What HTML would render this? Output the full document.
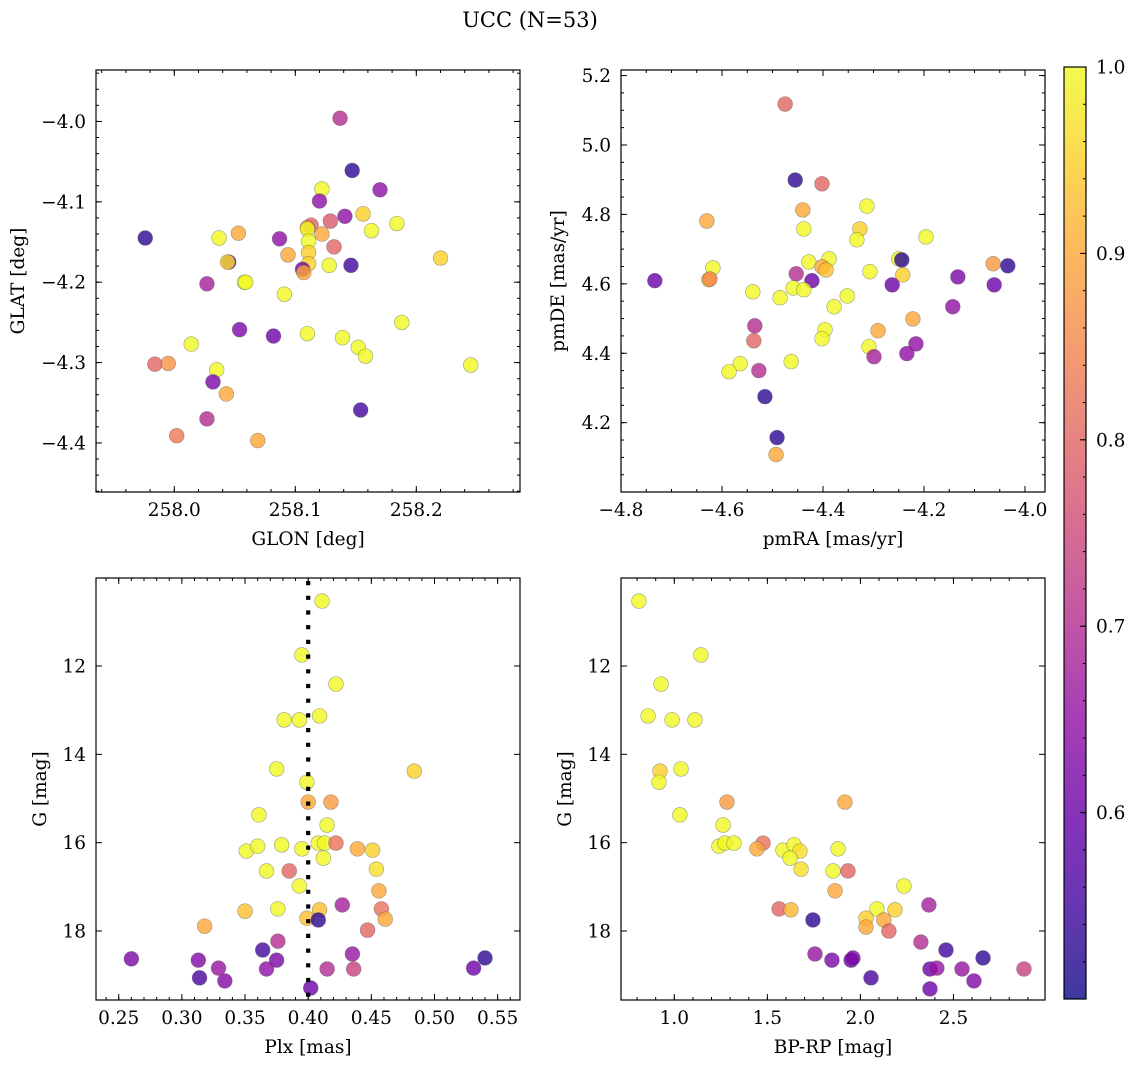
<!DOCTYPE html>
<html>
<head>
<meta charset="utf-8">
<style>
  html,body{margin:0;padding:0;background:#fff;}
  svg{display:block;}
  text{font-family:"DejaVu Serif","Liberation Serif",serif;fill:#000;}
</style>
</head>
<body>
<svg id="fig" width="1136" height="1067" viewBox="0 0 1136 1067" xmlns="http://www.w3.org/2000/svg">
  <rect width="1136" height="1067" fill="#fff"/>
  <text x="530" y="27" font-size="21" text-anchor="middle">UCC (N=53)</text>
  <defs>
    <linearGradient id="plasmaGrad" x1="0" y1="1" x2="0" y2="0"></linearGradient>
    <clipPath id="clip1"><rect x="96" y="70" width="424" height="422"/></clipPath>
    <clipPath id="clip2"><rect x="621" y="70" width="424" height="422"/></clipPath>
    <clipPath id="clip3"><rect x="96" y="578" width="424" height="422"/></clipPath>
    <clipPath id="clip4"><rect x="621" y="578" width="424" height="422"/></clipPath>
  </defs>
  <g id="layer"></g>
</svg>
<script>
// ---- Panel 1: GLON vs GLAT ----
const glon = [258.137,258.147,258.170,258.122,258.120,258.156,258.141,258.184,258.113,258.129,258.110,258.110,258.122,258.163,257.976,258.037,258.053,258.087,258.132,258.111,258.111,258.094,258.045,258.044,258.111,258.128,258.146,258.106,258.107,258.027,258.058,258.059,258.091,258.220,258.054,258.082,258.110,258.139,258.152,258.158,258.188,258.014,257.984,257.995,258.035,258.032,258.043,258.154,258.027,258.002,258.069,258.245];
const glat = [-3.996,-4.061,-4.085,-4.084,-4.099,-4.115,-4.118,-4.127,-4.129,-4.124,-4.132,-4.134,-4.140,-4.136,-4.145,-4.145,-4.139,-4.146,-4.156,-4.149,-4.163,-4.166,-4.175,-4.175,-4.177,-4.179,-4.179,-4.184,-4.188,-4.202,-4.200,-4.200,-4.215,-4.170,-4.259,-4.267,-4.264,-4.269,-4.281,-4.292,-4.250,-4.277,-4.302,-4.301,-4.309,-4.324,-4.339,-4.359,-4.370,-4.391,-4.397,-4.303];
const prob1 = [0.70,0.53,0.65,1.0,0.65,0.95,0.65,1.0,0.80,0.78,0.85,1.0,0.9,1.0,0.53,1.0,0.9,0.65,0.8,1.0,0.95,0.9,0.6,0.97,0.95,1.0,0.55,0.6,0.9,0.68,1.0,1.0,1.0,0.95,0.62,0.6,1.0,1.0,1.0,1.0,1.0,1.0,0.8,0.87,1.0,0.62,0.9,0.55,0.7,0.83,0.9,1.0];
const xTicks1 = [258.0,258.1,258.2];
const xTickLabels1 = ["258.0","258.1","258.2"];
const yTicks1 = [-4.0,-4.1,-4.2,-4.3,-4.4];
const yTickLabels1 = ["\u22124.0","\u22124.1","\u22124.2","\u22124.3","\u22124.4"];

// ---- Panel 2: pmRA vs pmDE ----
const pmra = [-4.475,-4.455,-4.402,-4.440,-4.313,-4.630,-4.438,-4.327,-4.333,-4.196,-4.618,-4.626,-4.624,-4.733,-4.453,-4.422,-4.428,-4.388,-4.402,-4.394,-4.459,-4.438,-4.539,-4.485,-4.352,-4.378,-4.307,-4.250,-4.244,-4.242,-4.263,-4.133,-4.063,-4.034,-4.061,-4.143,-4.222,-4.291,-4.396,-4.402,-4.535,-4.537,-4.216,-4.234,-4.309,-4.299,-4.463,-4.564,-4.586,-4.527,-4.515,-4.491,-4.493];
const pmde = [5.118,4.899,4.888,4.813,4.824,4.781,4.758,4.758,4.727,4.735,4.646,4.612,4.614,4.609,4.629,4.609,4.663,4.672,4.649,4.640,4.588,4.583,4.577,4.560,4.565,4.534,4.635,4.672,4.669,4.626,4.597,4.620,4.658,4.652,4.597,4.534,4.499,4.465,4.468,4.442,4.479,4.436,4.427,4.399,4.419,4.390,4.376,4.370,4.347,4.350,4.275,4.157,4.108];
const prob2 = [0.8,0.53,0.8,0.9,1.0,0.9,1.0,0.95,1.0,1.0,1.0,0.95,0.85,0.6,0.7,0.6,1.0,1.0,0.9,0.93,1.0,1.0,1.0,1.0,1.0,1.0,1.0,1.0,0.53,0.95,0.6,0.62,0.88,0.53,0.6,0.65,0.9,0.9,1.0,1.0,0.7,0.8,0.65,0.65,1.0,0.68,1.0,1.0,1.0,0.7,0.53,0.53,0.9];
const xTicks2 = [-4.8,-4.6,-4.4,-4.2,-4.0];
const xTickLabels2 = ["\u22124.8","\u22124.6","\u22124.4","\u22124.2","\u22124.0"];
const yTicks2 = [4.2,4.4,4.6,4.8,5.0,5.2];
const yTickLabels2 = ["4.2","4.4","4.6","4.8","5.0","5.2"];

// ---- Panel 3: Plx vs G ----
const plx = [0.411,0.395,0.422,0.381,0.393,0.409,0.375,0.484,0.399,0.400,0.418,0.361,0.415,0.351,0.360,0.379,0.395,0.408,0.413,0.422,0.439,0.451,0.412,0.367,0.385,0.454,0.393,0.456,0.350,0.376,0.409,0.427,0.458,0.461,0.399,0.408,0.318,0.447,0.376,0.364,0.260,0.313,0.375,0.435,0.329,0.367,0.415,0.436,0.540,0.531,0.314,0.334,0.402];
const gmag3 = [10.53,11.75,12.41,13.22,13.22,13.13,14.33,14.38,14.63,15.08,15.08,15.37,15.60,16.19,16.08,16.05,16.14,16.01,16.01,16.01,16.14,16.17,16.35,16.64,16.64,16.60,16.98,17.09,17.55,17.50,17.52,17.41,17.50,17.73,17.71,17.75,17.89,17.98,18.23,18.43,18.63,18.66,18.66,18.52,18.84,18.86,18.86,18.86,18.61,18.84,19.06,19.13,19.29];
const prob3 = [1,1,1,1,1,1,1,0.95,1,0.9,0.88,1,1,1,1,1,1,1,1,0.82,0.9,0.95,1,1,0.8,0.97,1,0.9,0.93,1,0.93,0.68,0.82,0.9,0.93,0.53,0.9,0.8,0.7,0.55,0.62,0.63,0.62,0.66,0.66,0.65,0.7,0.74,0.53,0.6,0.56,0.63,0.6];
const plxRef = [0.40];
const xTicks3 = [0.25,0.30,0.35,0.40,0.45,0.50,0.55];
const xTickLabels3 = ["0.25","0.30","0.35","0.40","0.45","0.50","0.55"];
const yTicksG = [12,14,16,18];
const yTickLabelsG = ["12","14","16","18"];

// ---- Panel 4: BP-RP vs G ----
const bprp = [0.810,1.143,0.929,0.859,0.988,1.111,0.923,1.036,0.918,1.283,1.917,1.030,1.262,1.240,1.272,1.321,1.477,1.444,1.584,1.643,1.675,1.622,1.681,1.880,1.853,1.933,1.864,2.234,1.563,1.627,1.745,2.089,2.186,2.030,2.030,2.126,2.153,2.368,2.325,2.460,1.756,1.847,1.950,1.960,2.659,2.374,2.411,2.546,2.879,2.057,2.610,2.374];
const gmag4 = [10.53,11.75,12.41,13.13,13.22,13.22,14.38,14.33,14.63,15.08,15.08,15.37,15.60,16.08,16.01,16.01,16.01,16.14,16.17,16.05,16.19,16.35,16.60,16.14,16.64,16.64,17.09,16.98,17.50,17.52,17.75,17.50,17.52,17.71,17.91,17.75,18.00,17.41,18.25,18.43,18.52,18.66,18.66,18.61,18.61,18.86,18.84,18.86,18.86,19.06,19.13,19.31];
const prob4 = [1,1,1,1,1,1,0.95,1,1,0.88,0.9,1,1,1,1,1,0.82,0.9,1,1,0.97,1,0.97,1,1,0.8,0.9,1,0.8,0.92,0.53,1,0.95,0.95,0.9,0.9,0.8,0.68,0.7,0.55,0.66,0.62,0.6,0.62,0.53,0.6,0.66,0.66,0.74,0.56,0.63,0.6];
const xTicks4 = [1.0,1.5,2.0,2.5];
const xTickLabels4 = ["1.0","1.5","2.0","2.5"];

// ---- Colorbar ----
const cbTicks = [0.6,0.7,0.8,0.9,1.0];
const cbTickLabels = ["0.6","0.7","0.8","0.9","1.0"];

const NS = "http://www.w3.org/2000/svg";
const layer = document.getElementById("layer");
const VMIN = 0.50, VMAX = 1.0;
const plasmaStops = ["#0d0887","#41049d","#6a00a8","#8f0da4","#b12a90","#cc4778","#e16462","#f2844b","#fca636","#fcce25","#f0f921"];
function hex2rgb(h){return [parseInt(h.slice(1,3),16),parseInt(h.slice(3,5),16),parseInt(h.slice(5,7),16)];}
function plasma(t){
  t = Math.max(0, Math.min(1, t));
  const p = t*(plasmaStops.length-1), i = Math.min(Math.floor(p), plasmaStops.length-2), f = p-i;
  const a = hex2rgb(plasmaStops[i]), b = hex2rgb(plasmaStops[i+1]);
  return "rgb("+a.map((v,k)=>Math.round(v+(b[k]-v)*f)).join(",")+")";
}
function mk(tag, attrs, parent){
  const e = document.createElementNS(NS, tag);
  for (const k in attrs) e.setAttribute(k, attrs[k]);
  (parent||layer).appendChild(e);
  return e;
}
function linScale(d0,d1,r0,r1){return v => r0 + (v-d0)/(d1-d0)*(r1-r0);}

function drawPanel(p){
  const g = mk("g", {});
  
  
  const sx = linScale(p.xd[0],p.xd[1],p.x0,p.x1);
  const sy = linScale(p.yd[0],p.yd[1],p.y1,p.y0);
  const pg = mk("g", {"clip-path":"url(#"+p.clip+")"}, g);
  
  
  for (let i=0;i<p.xs.length;i++){
    const c = mk("circle", {cx:sx(p.xs[i]).toFixed(2), cy:sy(p.ys[i]).toFixed(2), r:7.4,
      fill:plasma((p.cs[i]-VMIN)/(VMAX-VMIN)), "fill-opacity":0.8, stroke:"#555", "stroke-opacity":0.55, "stroke-width":0.6}, pg);
    
    
  }
  if (p.vline){
    for (const v of p.vline){
      const l = mk("line", {x1:sx(v), x2:sx(v), y1:p.y0+3, y2:p.y1, stroke:"#000", "stroke-width":4.2, "stroke-dasharray":"4.2 10.5"}, g);
      
      
    }
  }
  const fr = mk("rect", {x:p.x0, y:p.y0, width:p.x1-p.x0, height:p.y1-p.y0, fill:"none", stroke:"#000", "stroke-width":1.2}, g);
  
  
  const tk = mk("g", {stroke:"#000", "stroke-width":1}, g);
  
  
  const eps = 1e-9;
  let start = Math.ceil(p.xd[0]/p.xminor - eps)*p.xminor;
  for (let v=start; v<=p.xd[1]+eps; v+=p.xminor){
    const x = sx(v);
    mk("line",{x1:x,x2:x,y1:p.y1,y2:p.y1-3},tk); mk("line",{x1:x,x2:x,y1:p.y0,y2:p.y0+3},tk);
  }
  start = Math.ceil(p.yd[0]/p.yminor - eps)*p.yminor;
  for (let v=start; v<=p.yd[1]+eps; v+=p.yminor){
    const y = sy(v);
    mk("line",{x1:p.x0,x2:p.x0+3,y1:y,y2:y},tk); mk("line",{x1:p.x1,x2:p.x1-3,y1:y,y2:y},tk);
  }
  p.xt.forEach((v,i)=>{
    const x = sx(v);
    mk("line",{x1:x,x2:x,y1:p.y1,y2:p.y1-6},tk); mk("line",{x1:x,x2:x,y1:p.y0,y2:p.y0+6},tk);
    const t = mk("text",{x:x, y:p.y1+24, "font-size":18.5, "text-anchor":"middle"}, g);
    t.textContent = p.xtl[i];
    
    
  });
  p.yt.forEach((v,i)=>{
    const y = sy(v);
    mk("line",{x1:p.x0,x2:p.x0+6,y1:y,y2:y},tk); mk("line",{x1:p.x1,x2:p.x1-6,y1:y,y2:y},tk);
    const t = mk("text",{x:p.x0-10, y:y+6.5, "font-size":18.5, "text-anchor":"end"}, g);
    t.textContent = p.ytl[i];
    
    
  });
  const xl = mk("text",{x:(p.x0+p.x1)/2, y:p.y1+53, "font-size":18.5, "text-anchor":"middle"}, g);
  xl.textContent = p.xlabel;
  
  
  const yc = (p.y0+p.y1)/2;
  const yl = mk("text",{x:p.ylx, y:yc, "font-size":18.5, "text-anchor":"middle", transform:"rotate(-90 "+p.ylx+" "+yc+")"}, g);
  yl.textContent = p.ylabel;
  
  
}

drawPanel({name:"glon-glat-panel", clip:"clip1", x0:96,x1:520,y0:70,y1:492,
  xd:[257.9353,258.2857], yd:[-4.461,-3.936], xs:glon, ys:glat, cs:prob1,
  xt:xTicks1, xtl:xTickLabels1, yt:yTicks1, ytl:yTickLabels1, xminor:0.02, yminor:0.02,
  xlabel:"GLON [deg]", ylabel:"GLAT [deg]", ylx:24});
drawPanel({name:"pm-panel", clip:"clip2", x0:621,x1:1045,y0:70,y1:492,
  xd:[-4.8,-3.9604], yd:[4.0003,5.216], xs:pmra, ys:pmde, cs:prob2,
  xt:xTicks2, xtl:xTickLabels2, yt:yTicks2, ytl:yTickLabels2, xminor:0.05, yminor:0.05,
  xlabel:"pmRA [mas/yr]", ylabel:"pmDE [mas/yr]", ylx:564});
drawPanel({name:"plx-g-panel", clip:"clip3", x0:96,x1:520,y0:578,y1:1000,
  xd:[0.2320,0.5677], yd:[19.562,10.008], xs:plx, ys:gmag3, cs:prob3, vline:plxRef,
  xt:xTicks3, xtl:xTickLabels3, yt:yTicksG, ytl:yTickLabelsG, xminor:0.01, yminor:0.5,
  xlabel:"Plx [mas]", ylabel:"G [mag]", ylx:46});
drawPanel({name:"cmd-panel", clip:"clip4", x0:621,x1:1045,y0:578,y1:1000,
  xd:[0.7136,2.992], yd:[19.562,10.008], xs:bprp, ys:gmag4, cs:prob4,
  xt:xTicks4, xtl:xTickLabels4, yt:yTicksG, ytl:yTickLabelsG, xminor:0.1, yminor:0.5,
  xlabel:"BP-RP [mag]", ylabel:"G [mag]", ylx:571});

(function(){
  const grad = document.getElementById("plasmaGrad");
  for (let i=0;i<=20;i++){
    const s = document.createElementNS(NS,"stop");
    s.setAttribute("offset", (i/20));
    s.setAttribute("stop-color", plasma(i/20));
    grad.appendChild(s);
  }
  const cx0=1064, cx1=1086, cy0=67, cy1=999;
  const sc = linScale(VMIN, VMAX, cy1, cy0);
  const g = mk("g",{});
  
  
  mk("rect",{x:cx0,y:cy0,width:cx1-cx0,height:cy1-cy0,fill:"url(#plasmaGrad)","fill-opacity":0.8},g);
  mk("rect",{x:cx0,y:cy0,width:cx1-cx0,height:cy1-cy0,fill:"none",stroke:"#000","stroke-width":1.2},g);
  for (let v=0.52; v<=1.0001; v+=0.02){
    const y = sc(v);
    mk("line",{x1:cx1,x2:cx1-3,y1:y,y2:y,stroke:"#000","stroke-width":1},g);
  }
  cbTicks.forEach((v,i)=>{
    const y = sc(v);
    mk("line",{x1:cx1,x2:cx1-6,y1:y,y2:y,stroke:"#000","stroke-width":1},g);
    const t = mk("text",{x:cx1+10, y:y+6.5, "font-size":18.5},g);
    t.textContent = cbTickLabels[i];
    
    
  });
})();
</script>
</body>
</html>
